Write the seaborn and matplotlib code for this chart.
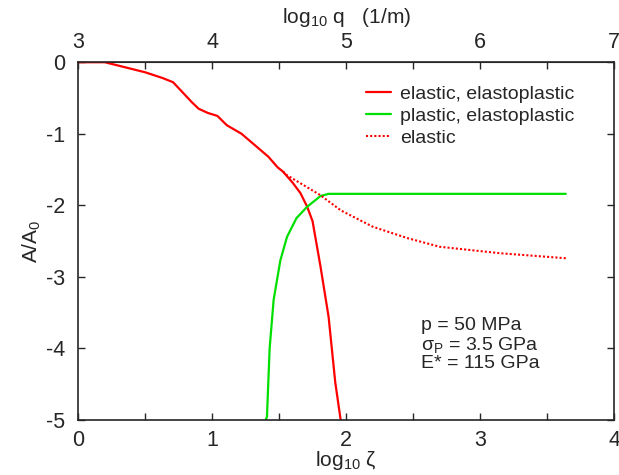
import matplotlib
matplotlib.use("Agg")
from matplotlib import pyplot as plt
from matplotlib.ticker import MultipleLocator
import pandas as pd
import seaborn as sns

# elastic + elastoplastic (red solid)
zeta_ep = [0, 0.2, 0.35, 0.5, 0.63, 0.71, 0.78, 0.85, 0.90, 0.97, 1.04, 1.11,
           1.22, 1.32, 1.42, 1.49, 1.53, 1.60, 1.66, 1.71, 1.75, 1.81, 1.87,
           1.92, 1.96]
area_ep = [0, 0, -0.07, -0.14, -0.22, -0.28, -0.42, -0.56, -0.65, -0.71, -0.75,
           -0.88, -1.0, -1.16, -1.32, -1.47, -1.53, -1.68, -1.83, -2.02, -2.22,
           -2.86, -3.56, -4.48, -5.0]

# plastic + elastoplastic (green)
zeta_pl = [1.40, 1.41, 1.43, 1.46, 1.51, 1.56, 1.63, 1.71, 1.81, 1.87, 2.5, 3.0, 3.64]
area_pl = [-5.0, -4.96, -4.0, -3.32, -2.77, -2.44, -2.18, -2.02, -1.87, -1.84,
           -1.84, -1.84, -1.84]

# elastic only (red dotted)
zeta_el = [1.53, 1.56, 1.81, 1.96, 2.2, 2.46, 2.70, 3.15, 3.64]
area_el = [-1.53, -1.58, -1.86, -2.07, -2.30, -2.46, -2.58, -2.67, -2.74]

sns.set_style("ticks")
plt.rcParams["font.family"] = ["Liberation Sans", "DejaVu Sans"]
plt.rcParams["mathtext.fontset"] = "custom"
plt.rcParams["mathtext.rm"] = "Liberation Sans"
plt.rcParams["mathtext.it"] = "Liberation Sans:italic"
plt.rcParams["axes.unicode_minus"] = False

fig = plt.figure(figsize=(6.19, 4.75), dpi=100)
ax = fig.add_axes([0.126, 0.116, 0.866, 0.753])

sns.lineplot(data=pd.DataFrame({"z": zeta_ep, "a": area_ep}), x="z", y="a",
             ax=ax, color="#ff0000", lw=1.6, sort=False,
             label="elastic, elastoplastic")
sns.lineplot(data=pd.DataFrame({"z": zeta_pl, "a": area_pl}), x="z", y="a",
             ax=ax, color="#00e000", lw=1.6, sort=False,
             label="plastic, elastoplastic")
sns.lineplot(data=pd.DataFrame({"z": zeta_el, "a": area_el}), x="z", y="a",
             ax=ax, color="#ff0000", lw=1.5, ls=(0, (1, 1)), sort=False,
             label="elastic")

ax.set_xlim(0, 4)
ax.set_ylim(-5, 0)
ax.xaxis.set_major_locator(MultipleLocator(1))
ax.xaxis.set_minor_locator(MultipleLocator(0.5))
ax.yaxis.set_major_locator(MultipleLocator(1))
ax.tick_params(which="both", direction="in", right=True, labelsize=15.5,
               width=1, length=5)
ax.tick_params(axis="x", pad=7)
ax.tick_params(axis="y", pad=9)
for s in ax.spines.values():
    s.set_linewidth(1.2)
    s.set_visible(True)

ax.set_xlabel(r"log$_\mathregular{10}$ ζ", fontsize=15, labelpad=-1)
ax.set_ylabel(r"A/A$_\mathregular{0}$", fontsize=15, labelpad=2)

top = ax.secondary_xaxis("top", functions=(lambda z: z + 3, lambda q: q - 3))
top.xaxis.set_major_locator(MultipleLocator(1))
top.xaxis.set_minor_locator(MultipleLocator(0.5))
top.tick_params(which="both", direction="in", labelsize=15.5, length=5,
                width=1, pad=7)
top.set_xlabel(r"log$_\mathregular{10}$ q   (1/m)", fontsize=15, labelpad=6)

ax.legend(loc="upper left", bbox_to_anchor=(0.537, 0.935), frameon=False,
          borderaxespad=0, borderpad=0, fontsize=14, handlelength=1.3,
          handletextpad=0.45, labelspacing=0.22)

ax.text(2.56, -3.56, "p = 50 MPa\n" r"σ$_\mathregular{P}$ = 3.5 GPa" "\nE* = 115 GPa",
        fontsize=14, va="top", ha="left", linespacing=1.05)

fig.savefig("out.png", dpi=100)
